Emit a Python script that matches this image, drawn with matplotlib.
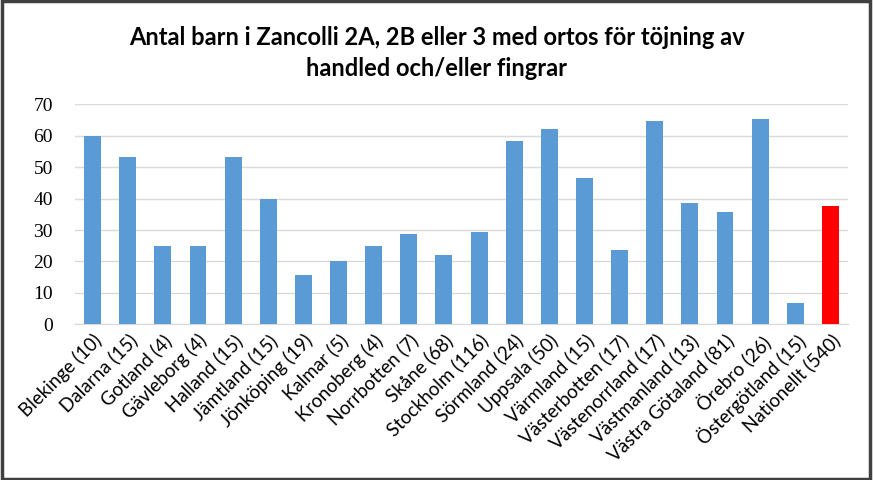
import matplotlib
matplotlib.use("Agg")
import matplotlib.pyplot as plt
from matplotlib.patches import Rectangle

categories = ["Blekinge (10)", "Dalarna (15)", "Gotland (4)", "Gävleborg (4)", "Halland (15)",
              "Jämtland (15)", "Jönköping (19)", "Kalmar (5)", "Kronoberg (4)", "Norrbotten (7)",
              "Skåne (68)", "Stockholm (116)", "Sörmland (24)", "Uppsala (50)", "Värmland (15)",
              "Västerbotten (17)", "Västenorrland (17)", "Västmanland (13)", "Västra Götaland (81)",
              "Örebro (26)", "Östergötland (15)", "Nationellt (540)"]
values = [60.0, 53.3, 25.0, 25.0, 53.3, 40.0, 15.8, 20.0, 25.0, 28.6,
          22.1, 29.3, 58.3, 62.0, 46.7, 23.5, 64.7, 38.5, 35.8, 65.4, 6.7, 37.8]
highlight = "Nationellt (540)"
yticks = [0, 10, 20, 30, 40, 50, 60, 70]
title = "Antal barn i Zancolli 2A, 2B eller 3 med ortos för töjning av\nhandled och/eller fingrar"

W, H = 873, 480
fig = plt.figure(figsize=(W / 100, H / 100), dpi=100)
ax = fig.add_axes([75 / W, 1 - 324.3 / H, (848 - 75) / W, (324.3 - 104.3) / H])

colors = ["#FF0000" if c == highlight else "#5B9BD5" for c in categories]
x = list(range(len(categories)))
ax.bar(x, values, width=0.48, color=colors, zorder=3)

ax.set_xlim(-0.5, len(categories) - 0.5)
ax.set_ylim(0, 70)
ax.set_yticks(yticks)
ax.set_yticklabels([str(v) for v in yticks], fontsize=14, family="Liberation Serif")
ax.yaxis.grid(True, color="#D9D9D9", linewidth=1, zorder=0)
ax.tick_params(axis="y", length=0, pad=16)
ax.tick_params(axis="x", length=0, pad=5)
ax.set_xticks(x)
ax.set_xticklabels(categories, rotation=45, ha="right", rotation_mode="anchor",
                   fontsize=13.5, family="Lato")
for s in ["top", "right", "left"]:
    ax.spines[s].set_visible(False)
ax.spines["bottom"].set_color("#D9D9D9")

fig.text(0.5, 1 - 53 / H, title, ha="center", va="center", fontsize=17,
         family="Lato", fontweight="bold", linespacing=1.4)

fig.patches.append(Rectangle((0.002, 0.003), 0.995, 0.994, transform=fig.transFigure,
                             fill=False, edgecolor="#404040", linewidth=2.5))

fig.savefig("out.png", dpi=100)
